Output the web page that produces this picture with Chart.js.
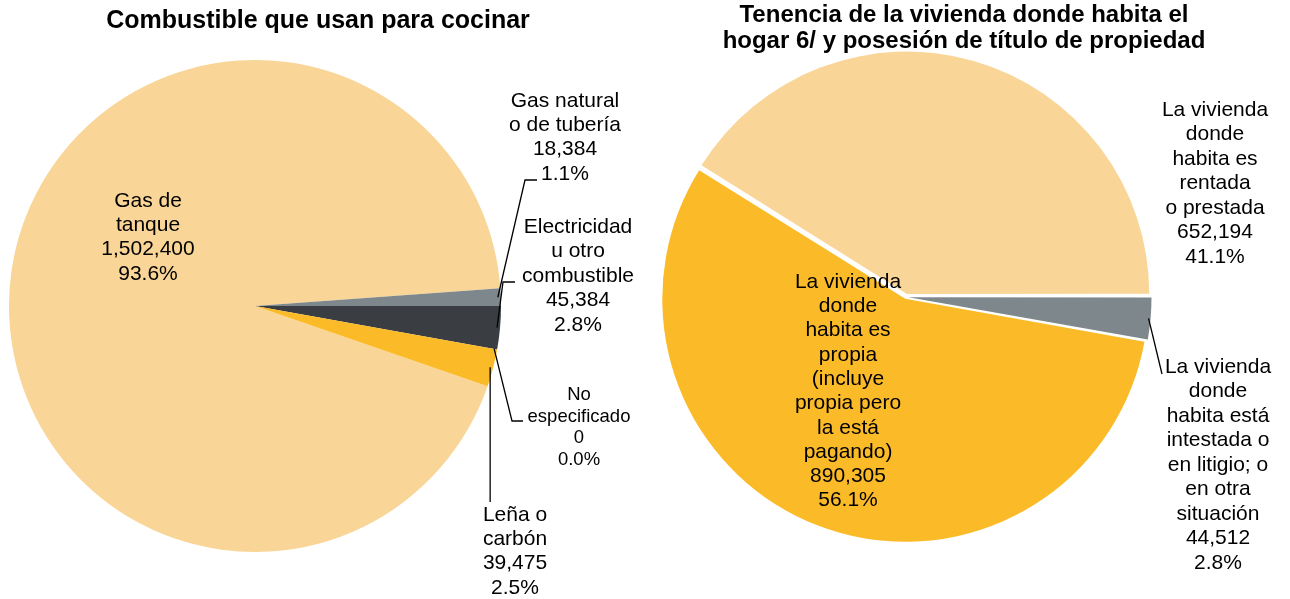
<!DOCTYPE html>
<html><head><meta charset="utf-8">
<script src="https://cdn.jsdelivr.net/npm/chart.js@4"></script>
<style>
html,body{margin:0;padding:0;background:#fff;}
#wrap{position:relative;width:1290px;height:599px;overflow:hidden;background:#fff;}
#c1{position:absolute;left:0;top:0;}
#c2{position:absolute;left:640px;top:0;}
</style></head><body>
<div id="wrap"><canvas id="c1" width="640" height="599"></canvas><canvas id="c2" width="650" height="599"></canvas></div>
<script>
// ---------- DATA ----------
const fuelTitle = ['Combustible que usan para cocinar'];
const fuelNames = [['Gas de','tanque'],['Gas natural','o de tubería'],['Electricidad','u otro','combustible'],['No','especificado'],['Leña o','carbón']];
const fuelValues = [1502400, 18384, 45384, 0, 39475];
const fuelPercents = ['93.6%','1.1%','2.8%','0.0%','2.5%'];

const tenureTitle = ['Tenencia de la vivienda donde habita el','hogar 6/ y posesión de título de propiedad'];
const tenureNames = [['La vivienda','donde','habita es','rentada','o prestada'],['La vivienda','donde','habita está','intestada o','en litigio; o','en otra','situación'],['La vivienda','donde','habita es','propia','(incluye','propia pero','la está','pagando)']];
const tenureValues = [652194, 44512, 890305];
const tenurePercents = ['41.1%','2.8%','56.1%'];

// ---------- STYLE ----------
const LIGHT = '#F9D597', ORANGE = '#FBBB29', GRAY = '#7E878C', DARK = '#3A3D41';
const fuelColors = [LIGHT, GRAY, DARK, '#C0504D', ORANGE];
const tenureColors = [LIGHT, GRAY, ORANGE];
const FONT = '"Liberation Sans", Arial, Helvetica, sans-serif';

const fmt = v => v.toLocaleString('en-US');
const sum = a => a.reduce((s, v) => s + v, 0);

// rotation: left pie -> 'Electricidad' starts at 3 o'clock; right pie -> gray slice starts at 3 o'clock
const fuelRotation = 90 - 360 * (fuelValues[0] + fuelValues[1]) / sum(fuelValues);
const tenureRotation = 90 - 360 * tenureValues[0] / sum(tenureValues);

const labelConf = {
  c1: {
    title: fuelTitle, titleX: 318, titleY: 21, titleLH: 25, titleSize: 25,
    names: fuelNames, values: fuelValues, percents: fuelPercents,
    labels: [
      {x: 148, y: 201, lh: 24.3, size: 21},
      {x: 565, y: 101, lh: 24.3, size: 21},
      {x: 578, y: 227, lh: 24.5, size: 21},
      {x: 579, y: 395, lh: 21.5, size: 18.5},
      {x: 515, y: 515, lh: 24.3, size: 21}
    ],
    leaders: [
      {index: 1, inset: 3, pts: [[525, 180], [537, 180]]},
      {index: 2, inset: 3, pts: [[503, 282], [515, 282]]},
      {index: 3, inset: 3, pts: [[512, 421], [523, 421]]},
      {index: 4, inset: 3, pts: [[null, 502]]}
    ]
  },
  c2: {
    title: tenureTitle, titleX: 324, titleY: 15, titleLH: 26, titleSize: 24,
    names: tenureNames, values: tenureValues, percents: tenurePercents,
    labels: [
      {x: 575, y: 110, lh: 24.5, size: 21},
      {x: 578, y: 367, lh: 24.5, size: 21},
      {x: 208, y: 282, lh: 24.3, size: 21}
    ],
    leaders: [
      {index: 1, inset: 2, pts: [[522, 374]]}
    ]
  }
};

function arcShift(arc) {
  const o = (arc.options.offset || 0) / 4;
  const circ = arc.endAngle - arc.startAngle;
  const fix = 1 - Math.sin(Math.min(Math.PI, circ || 0));
  return o * (1 + fix);
}

const sliceLabels = {
  id: 'sliceLabels',
  afterDatasetsDraw(chart) {
    const conf = labelConf[chart.canvas.id];
    const ctx = chart.ctx;
    const meta = chart.getDatasetMeta(0);
    ctx.save();
    ctx.fillStyle = '#000';
    ctx.textAlign = 'center';
    ctx.textBaseline = 'middle';
    ctx.font = `bold ${conf.titleSize}px ${FONT}`;
    conf.title.forEach((t, i) => ctx.fillText(t, conf.titleX, conf.titleY + i * conf.titleLH));

    ctx.strokeStyle = '#000';
    ctx.lineWidth = 1.3;
    conf.leaders.forEach(L => {
      const arc = meta.data[L.index];
      const mid = (arc.startAngle + arc.endAngle) / 2;
      const r = arc.outerRadius - L.inset + arcShift(arc);
      const ax = arc.x + Math.cos(mid) * r, ay = arc.y + Math.sin(mid) * r;
      ctx.beginPath();
      ctx.moveTo(ax, ay);
      L.pts.forEach(([x, y]) => ctx.lineTo(x === null ? ax : x, y));
      ctx.stroke();
    });

    conf.labels.forEach((L, i) => {
      const lines = [...conf.names[i], fmt(conf.values[i]), conf.percents[i]];
      ctx.font = `${L.size}px ${FONT}`;
      lines.forEach((t, j) => ctx.fillText(t, L.x, L.y + j * L.lh));
    });
    ctx.restore();
  }
};

Chart.register(sliceLabels);

new Chart(document.getElementById('c1'), {
  type: 'pie',
  data: {
    labels: fuelNames.map(n => n.join(' ')),
    datasets: [{data: fuelValues, backgroundColor: fuelColors, borderWidth: 0, offset: 0}]
  },
  options: {
    responsive: false, animation: false, events: [],
    rotation: fuelRotation, radius: 246,
    layout: {padding: {left: 0, right: 130, top: 59, bottom: 46}},
    plugins: {legend: {display: false}, tooltip: {enabled: false}, title: {display: false}}
  }
});

new Chart(document.getElementById('c2'), {
  type: 'pie',
  data: {
    labels: tenureNames.map(n => n.join(' ')),
    datasets: [{data: tenureValues, backgroundColor: tenureColors, borderWidth: 0, offset: [12.25, 9.9, 8]}]
  },
  options: {
    responsive: false, animation: false, events: [],
    rotation: tenureRotation, radius: 241,
    layout: {padding: {left: 0, right: 118, top: 56, bottom: 61}},
    plugins: {legend: {display: false}, tooltip: {enabled: false}, title: {display: false}}
  }
});
</script>
</body></html>
